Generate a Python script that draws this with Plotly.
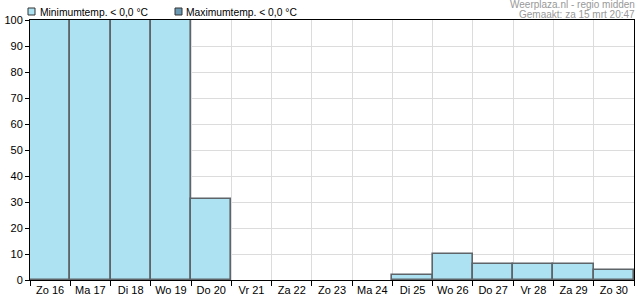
import plotly.graph_objects as go

days = ["Zo 16", "Ma 17", "Di 18", "Wo 19", "Do 20", "Vr 21", "Za 22", "Zo 23",
        "Ma 24", "Di 25", "Wo 26", "Do 27", "Vr 28", "Za 29", "Zo 30"]
min_below_zero = [100, 100, 100, 100, 31, 0, 0, 0, 0, 2, 10, 6, 6, 6, 4]
max_below_zero = [0] * 15
y_ticks = list(range(0, 101, 10))
series_names = ["Minimumtemp. < 0,0 °C", "Maximumtemp. < 0,0 °C"]
series_colors = ["#ACE2F2", "#6B9AB4"]
credit_lines = ["Weerplaza.nl - regio midden", "Gemaakt: za 15 mrt 20:47"]

FONT = "Liberation Sans, Arial, sans-serif"
W, H = 635, 300
L, R, T, B = 30, 1, 20, 20
PW, PH = W - L - R, H - T - B


def px_x(px):
    return (px - L) / PW


def px_y(py):
    return (H - B - py) / PH


fig = go.Figure()
fig.add_trace(go.Bar(
    x=days, y=min_below_zero, name=series_names[0],
    marker=dict(color=series_colors[0],
                line=dict(color="#5f6468",
                          width=[0 if v == 0 else 1.6 for v in min_below_zero])),
    showlegend=False,
))
fig.add_trace(go.Bar(
    x=days, y=max_below_zero, name=series_names[1],
    marker=dict(color=series_colors[1], line=dict(color="#3d4a52", width=0)),
    showlegend=False,
))

fig.update_layout(
    width=W, height=H,
    margin=dict(l=L, r=R, t=T, b=B),
    paper_bgcolor="white", plot_bgcolor="white",
    barmode="overlay", bargap=0,
    font=dict(family=FONT, size=11, color="black"),
    xaxis=dict(type="category", tickson="boundaries", showgrid=True,
               gridcolor="#dcdcdc", gridwidth=1, ticks="outside", ticklen=5,
               tickcolor="black", showline=True, linecolor="black", linewidth=1,
               mirror=True, tickfont=dict(size=11), tickangle=0, automargin=False,
               layer="above traces", fixedrange=True),
    yaxis=dict(range=[0, 100], tickvals=y_ticks, showgrid=True, gridcolor="#dcdcdc",
               ticks="outside", ticklen=4, tickcolor="black", showline=True,
               linecolor="black", linewidth=1, mirror=True, zeroline=False,
               tickfont=dict(size=11), automargin=False, layer="above traces",
               fixedrange=True),
)

# manual legend
legend_pos = [(28, 38), (175, 184)]
for (bx, tx), name, col in zip(legend_pos, series_names, series_colors):
    fig.add_shape(type="rect", xref="paper", yref="paper",
                  x0=px_x(bx), x1=px_x(bx + 7), y0=px_y(15), y1=px_y(8),
                  fillcolor=col, line=dict(color="#333333", width=1))
    fig.add_annotation(text=name, xref="paper", yref="paper", x=px_x(tx), y=px_y(12),
                       xanchor="left", yanchor="middle", showarrow=False,
                       font=dict(size=10.3, color="black", family=FONT))

for line, cy in zip(credit_lines, (5, 14.5)):
    fig.add_annotation(text=line, xref="paper", yref="paper", x=px_x(634), y=px_y(cy),
                       xanchor="right", yanchor="middle", showarrow=False,
                       font=dict(size=10, color="#999999", family=FONT),
                       borderpad=0, xshift=2)

fig.write_html("out.html")
